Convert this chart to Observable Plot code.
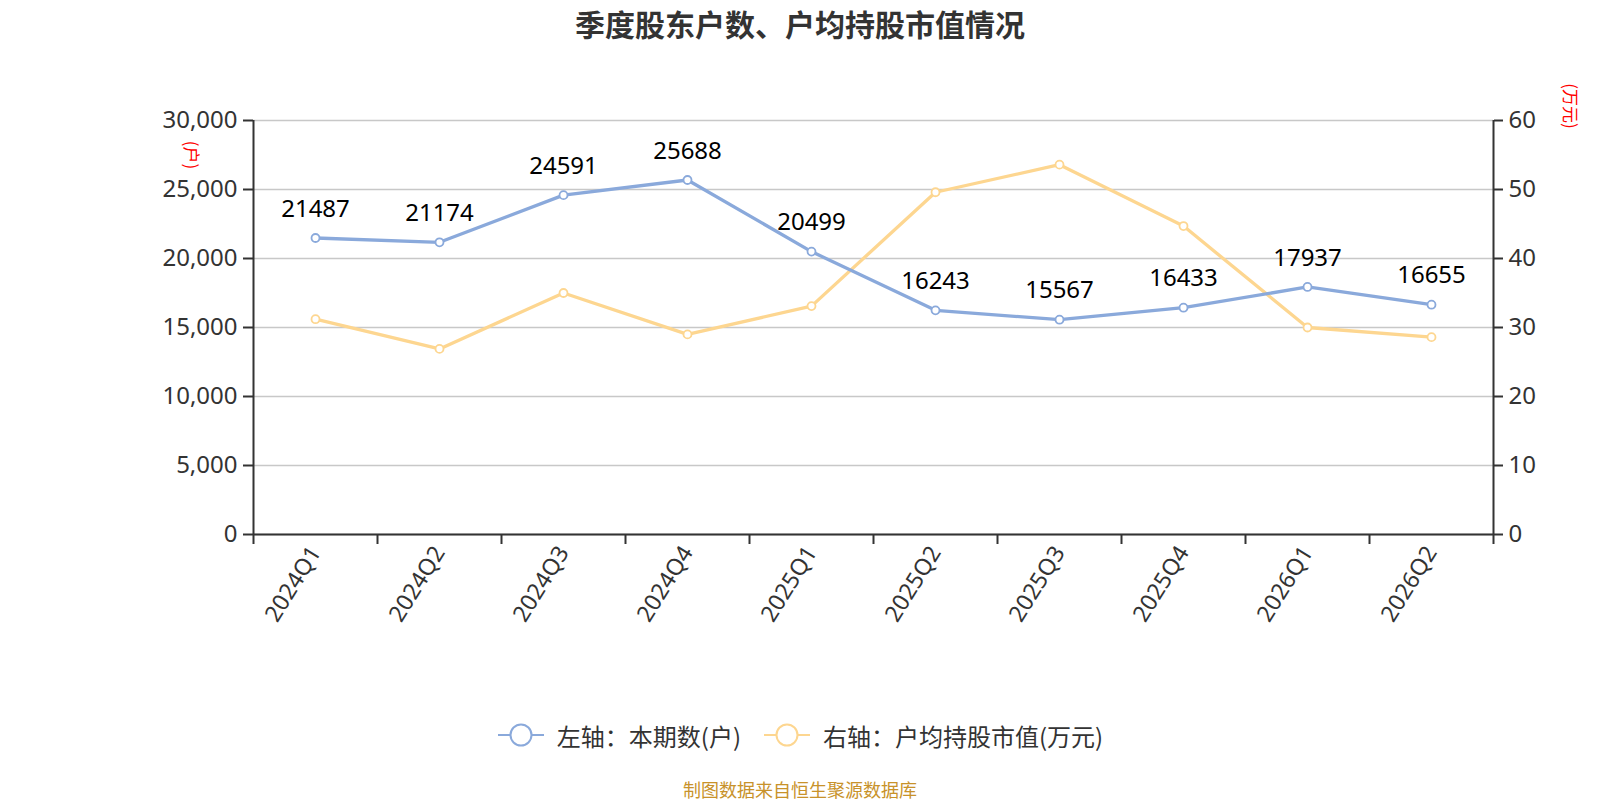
<!DOCTYPE html>
<html>
<head>
<meta charset="utf-8">
<script src="https://cdn.jsdelivr.net/npm/d3@7"></script>
<script src="https://cdn.jsdelivr.net/npm/@observablehq/plot@0.6"></script>
<style>
  html, body { margin: 0; padding: 0; background: #fff; }
  body { width: 1600px; height: 800px; position: relative; overflow: hidden; font-family: "Noto Sans", "Noto Sans CJK SC", sans-serif; }
  #title { position: absolute; left: 0; top: 0; width: 1600px; height: 46px; line-height: 46px; text-align: center; font-size: 30px; font-weight: bold; color: #333; font-family: "Noto Sans CJK SC", sans-serif; }
  #chart { position: absolute; left: 0; top: 50px; }
  .unit { position: absolute; color: #f00; font-size: 17px; line-height: 17px; white-space: nowrap; transform: translate(-50%, -50%) rotate(90deg); font-family: "Noto Sans CJK SC", sans-serif; font-weight: normal; }
  #legend { position: absolute; left: 0; top: 714px; width: 1600px; height: 42px; display: flex; justify-content: center; align-items: center; font-size: 24px; color: #333; font-family: "Noto Sans CJK SC", sans-serif; }
  #legend .item { display: flex; align-items: center; margin: 0 11px; }
  #legend svg { margin-right: 12px; }
  #caption { position: absolute; left: 0; top: 776px; width: 1600px; text-align: center; font-size: 18px; line-height: 26px; color: #c8922a; font-family: "Noto Sans CJK SC", sans-serif; }
</style>
</head>
<body>
<div id="title">季度股东户数、户均持股市值情况</div>
<div id="chart"></div>
<div class="unit" style="left:192px; top:155px;">(户)</div>
<div class="unit" style="left:1571px; top:106px;">(万元)</div>
<div id="legend"></div>
<div id="caption">制图数据来自恒生聚源数据库</div>
<script>
const quarters = ["2024Q1","2024Q2","2024Q3","2024Q4","2025Q1","2025Q2","2025Q3","2025Q4","2026Q1","2026Q2"];
const holders = [21487, 21174, 24591, 25688, 20499, 16243, 15567, 16433, 17937, 16655];
const avgValue = [31.2, 26.9, 35.0, 29.0, 33.1, 49.6, 53.6, 44.7, 30.0, 28.6];
const leftTicks = [0, 5000, 10000, 15000, 20000, 25000, 30000];
const rightTicks = [0, 10, 20, 30, 40, 50, 60];
const seriesNames = ["左轴：本期数(户)", "右轴：户均持股市值(万元)"];
const colors = ["#8aa9db", "#fdd690"];

const ratio = leftTicks[leftTicks.length - 1] / rightTicks[rightTicks.length - 1];
const n = quarters.length;
const rows = quarters.map((q, i) => ({q, xi: i + 0.5, holders: holders[i], avg: avgValue[i], avgScaled: avgValue[i] * ratio}));

const plot = Plot.plot({
  width: 1600,
  height: 640,
  marginTop: 70,
  marginBottom: 156,
  marginLeft: 253,
  marginRight: 107,
  style: {fontFamily: '"Noto Sans", "Noto Sans CJK SC", sans-serif', color: "#333", background: "transparent", overflow: "visible"},
  x: {type: "linear", domain: [0, n]},
  y: {domain: [0, leftTicks[leftTicks.length - 1]]},
  marks: [
    Plot.gridY(leftTicks, {stroke: "#c8c8c8", strokeOpacity: 1, strokeWidth: 1.4}),
    Plot.axisY({ticks: leftTicks, tickFormat: d3.format(","), tickSize: 10, tickPadding: 6, fontSize: 24, label: null, strokeWidth: 2, fill: "#333"}),
    Plot.axisY({anchor: "right", ticks: leftTicks, tickFormat: d => d / ratio, tickSize: 9, tickPadding: 6, fontSize: 24, label: null, strokeWidth: 2, fill: "#333"}),
    Plot.axisX({ticks: d3.range(n + 1), tickFormat: () => "", tickSize: 10, label: null, strokeWidth: 2}),
    Plot.axisX({ticks: rows.map(d => d.xi), tickFormat: v => quarters[Math.floor(v)], tickSize: 0, tickPadding: 14, tickRotate: -58, fontSize: 23, label: null, fill: "#333"}),
    Plot.ruleX([0, n], {stroke: "#333", strokeWidth: 2}),
    Plot.ruleY([0], {stroke: "#333", strokeWidth: 2}),
    Plot.line(rows, {x: "xi", y: "avgScaled", stroke: colors[1], strokeWidth: 3.3}),
    Plot.line(rows, {x: "xi", y: "holders", stroke: colors[0], strokeWidth: 3.3}),
    Plot.dot(rows, {x: "xi", y: "avgScaled", r: 4, fill: "#fff", stroke: colors[1], strokeWidth: 1.8}),
    Plot.dot(rows, {x: "xi", y: "holders", r: 4, fill: "#fff", stroke: colors[0], strokeWidth: 1.8}),
    Plot.text(rows, {x: "xi", y: "holders", text: d => String(d.holders), dy: -29, fontSize: 24, fill: "#000"})
  ]
});
document.getElementById("chart").appendChild(plot);

const legend = document.getElementById("legend");
seriesNames.forEach((name, i) => {
  const item = document.createElement("div");
  item.className = "item";
  item.innerHTML = `<svg width="48" height="26"><line x1="1" x2="47" y1="13" y2="13" stroke="${colors[i]}" stroke-width="2"/><circle cx="24" cy="13" r="10.5" fill="#fff" stroke="${colors[i]}" stroke-width="2"/></svg><span>${name}</span>`;
  legend.appendChild(item);
});
</script>
</body>
</html>
